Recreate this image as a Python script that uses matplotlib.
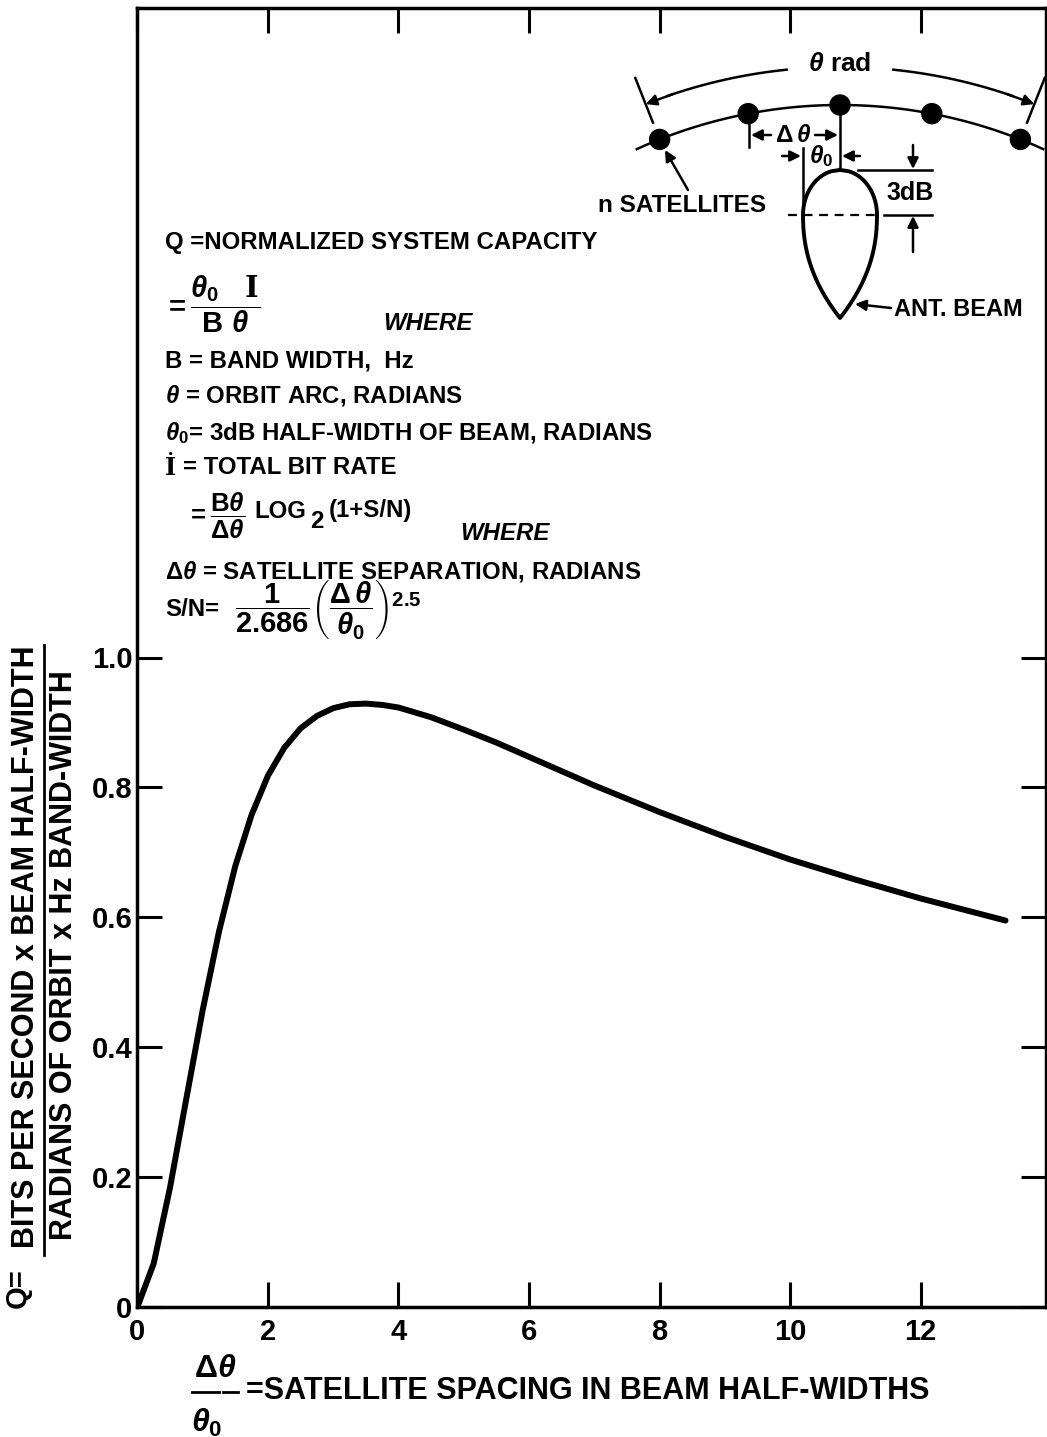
import numpy as np
import matplotlib.pyplot as plt
from matplotlib.patches import Circle

# Letras gruesas de palo seco, parecidas a las de plantilla
plt.rcParams['font.family'] = ['Liberation Sans', 'DejaVu Sans']
plt.rcParams['font.weight'] = 'bold'
plt.rcParams['mathtext.fontset'] = 'custom'
plt.rcParams['mathtext.rm'] = 'Liberation Sans:bold'
plt.rcParams['mathtext.it'] = 'Liberation Sans:italic:bold'
plt.rcParams['mathtext.bf'] = 'Liberation Sans:bold'
plt.rcParams['mathtext.sf'] = 'DejaVu Serif:bold'

# Separación entre satélites en semianchos de haz (Δθ/θo) y capacidad normalizada Q
separacion = [0, 0.25, 0.5, 0.75, 1.0, 1.25, 1.5, 1.75, 2.0, 2.25, 2.5, 2.75, 3.0,
              3.25, 3.5, 3.75, 4.0, 4.5, 5.0, 5.5, 6.0, 7.0, 8.0, 9.0, 10.0, 11.0,
              12.0, 13.3]
capacidadQ = [0, 0.067, 0.184, 0.321, 0.457, 0.578, 0.679, 0.758, 0.818, 0.861,
              0.891, 0.910, 0.922, 0.928, 0.929, 0.927, 0.923, 0.908, 0.889, 0.869,
              0.847, 0.803, 0.762, 0.724, 0.689, 0.658, 0.629, 0.595]

marcasX = [0, 2, 4, 6, 8, 10, 12]
etiquetasX = ['0', '2', '4', '6', '8', '10', '12']
marcasY = [0, 0.2, 0.4, 0.6, 0.8, 1.0]
etiquetasY = ['0', '0.2', '0.4', '0.6', '0.8', '1.0']

fig = plt.figure(figsize=(10.47, 14.37), dpi=100)
ax = fig.add_axes([137.4 / 1047, 130 / 1437, 908.6 / 1047, 1299 / 1437])
ax.plot(separacion, capacidadQ, color='black', lw=4.3,
        solid_capstyle='round', solid_joinstyle='round')
ax.set_xlim(0, 13.92)
ax.set_ylim(0, 2.0)
ax.set_xticks(marcasX, etiquetasX)
ax.set_yticks(marcasY, etiquetasY)
ax.tick_params(direction='in', length=18, width=2.2, top=True, right=True,
               labelsize=21)
ax.tick_params(axis='x', pad=8)
ax.tick_params(axis='y', pad=3.5)
for lado in ax.spines.values():
    lado.set_linewidth(2.5)

# Capa en pixeles para los rótulos y el esquema de la órbita
capa = fig.add_axes([0, 0, 1, 1], facecolor='none')
capa.set_xlim(0, 1047)
capa.set_ylim(1437, 0)
capa.axis('off')


def Flecha(x0, y0, x1, y1):
    """Flecha con punta rellena en (x1, y1)."""
    capa.annotate('', xy=(x1, y1), xytext=(x0, y0),
                  arrowprops=dict(arrowstyle='-|>', color='black', lw=1.8,
                                  mutation_scale=16, shrinkA=0, shrinkB=0))


def PuntoArco(radio, angulo):
    """Punto sobre un arco centrado bajo el satélite central."""
    a = np.radians(angulo)
    return 840 + radio * np.sin(a), 595 - radio * np.cos(a)


# Arco de la órbita con los n satélites
xa, ya = PuntoArco(490, np.linspace(-24.5, 24.5, 120))
capa.plot(xa, ya, color='black', lw=1.8)
for ang in [-21.6, -10.8, 0, 10.8, 21.6]:
    capa.add_patch(Circle(PuntoArco(490, ang), 10, color='black'))

# Cota del arco total θ
for signo in [-1, 1]:
    xa, ya = PuntoArco(528, signo * np.linspace(5.8, 19, 60))
    capa.plot(xa, ya, color='black', lw=1.8)
    Flecha(*PuntoArco(528, signo * 18.5), *PuntoArco(528, signo * 21.6))
    xr, yr = PuntoArco(np.array([508, 556]), signo * 21.6)
    capa.plot(xr, yr, color='black', lw=1.8)
capa.text(840, 64, r'$\theta$ rad', fontsize=19, ha='center', va='center')

# Cota Δθ entre satélites
capa.plot([749, 749], [116, 147], color='black', lw=1.8)
capa.plot([840, 840], [112, 168], color='black', lw=1.8)
Flecha(771, 135, 751, 135)
Flecha(815, 135, 838, 135)
capa.text(793, 135, r'$\Delta\,\theta$', fontsize=17.5, ha='center', va='center')

# Cota θo del semiancho del haz
capa.plot([803, 803], [148, 207], color='black', lw=1.8)
Flecha(782, 156, 801, 156)
Flecha(860, 156, 842, 156)
capa.text(821, 156, r'$\theta_0$', fontsize=17.5, ha='center', va='center')

# Contorno del haz de la antena
yArriba = np.linspace(170, 215, 40)
wArriba = 37 * np.sqrt(1 - ((yArriba - 215) / 45) ** 2)
yAbajo = np.linspace(215, 318, 60)
wAbajo = 37 * (1 - ((yAbajo - 215) / 103) ** 2.2)
yHaz = np.concatenate([yArriba, yAbajo])
wHaz = np.concatenate([wArriba, wAbajo])
capa.plot(np.concatenate([840 - wHaz, (840 + wHaz)[::-1]]),
          np.concatenate([yHaz, yHaz[::-1]]), color='black', lw=2.8)
capa.plot([788, 880], [215, 215], color='black', lw=1.6, dashes=(4, 3))

# Cota de 3 dB
capa.plot([858, 932], [170, 170], color='black', lw=1.8)
capa.plot([884, 932], [215, 215], color='black', lw=1.8)
Flecha(913, 145, 913, 169)
Flecha(913, 252, 913, 216)
capa.text(910, 193, '3dB', fontsize=18, ha='center', va='center')

capa.text(598, 205, 'n SATELLITES', fontsize=17.5, va='center')
Flecha(688, 190, 665, 150)
capa.text(894, 310, 'ANT. BEAM', fontsize=17, va='center')
Flecha(891, 308, 855, 304)

# Definiciones de las variables
tam = 17.3
capa.text(165, 242, 'Q =NORMALIZED SYSTEM CAPACITY', fontsize=tam, va='center')
capa.text(163, 304, r'$=\dfrac{\theta_{0}\ \ \ \mathsf{I}}{\mathrm{B}\ \theta}$',
          fontsize=21, va='center')
capa.text(383, 323, 'WHERE', fontsize=tam, style='italic', va='center')
capa.text(165, 361, 'B = BAND WIDTH,  Hz', fontsize=tam, va='center')
capa.text(165, 396, r'$\theta$ = ORBIT ARC, RADIANS', fontsize=tam, va='center')
capa.text(165, 433, r'$\theta_0$= 3dB HALF-WIDTH OF BEAM, RADIANS', fontsize=tam, va='center')
capa.text(165, 468, 'İ', fontsize=tam, family='DejaVu Serif', va='center')
capa.text(183, 468, '= TOTAL BIT RATE', fontsize=tam, va='center')
capa.text(186, 516, r'$=\dfrac{\mathrm{B}\theta}{\Delta\theta}$',
          fontsize=18.5, va='center')
capa.text(254, 511, 'LOG', fontsize=tam, va='center')
capa.text(310, 522, '2', fontsize=tam, va='center')
capa.text(329, 511, '(1+S/N)', fontsize=tam, va='center')
capa.text(460, 533, 'WHERE', fontsize=tam, style='italic', va='center')
capa.text(165, 572, r'$\Delta\theta$ = SATELLITE SEPARATION, RADIANS', fontsize=tam, va='center')
capa.text(165, 610, 'S/N=', fontsize=tam, va='center')
capa.text(235, 610, r'$\dfrac{1}{2.686}\left(\dfrac{\Delta\,\theta}{\theta_0}\right)^{2.5}$',
          fontsize=21, va='center')

# Rótulo del eje Y como fracción vertical
capa.text(18, 1288, 'Q=', rotation=90, fontsize=21, ha='center', va='center')
capa.text(26, 947, 'BITS PER SECOND x BEAM HALF-WIDTH', rotation=90, fontsize=22,
          ha='center', va='center')
capa.plot([44, 44], [645, 1255], color='black', lw=2)
capa.text(64, 955, 'RADIANS OF ORBIT x Hz BAND-WIDTH', rotation=90, fontsize=22,
          ha='center', va='center')

# Rótulo del eje X
capa.text(215, 1369, r'$\Delta\theta$', fontsize=23, ha='center', va='center')
capa.plot([192, 219], [1392, 1392], color='black', lw=2)
capa.plot([223, 238], [1392, 1392], color='black', lw=2)
capa.text(207, 1423, r'$\theta_0$', fontsize=23, ha='center', va='center')
capa.text(246, 1391, '=SATELLITE SPACING IN BEAM HALF-WIDTHS', fontsize=22, va='center')

fig.savefig('out.png', dpi=100)
